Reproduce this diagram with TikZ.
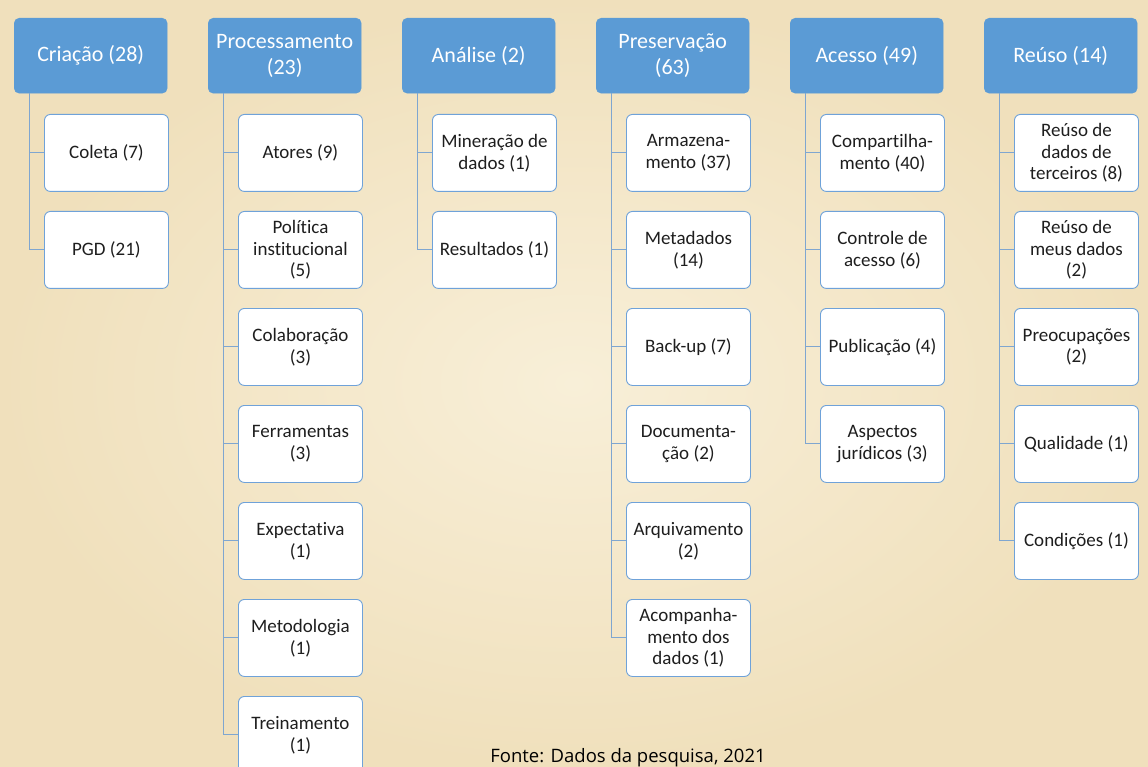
\documentclass[tikz,border=0pt]{standalone}
\usepackage{fontspec}
\setmainfont{Carlito}[RawFeature={-liga;-clig;-calt}]
\newfontfamily\srcfont{Open Sans}
\definecolor{bgin}{HTML}{F8EFD8}
\definecolor{bgout}{HTML}{F0E0BC}
\definecolor{headc}{HTML}{5B9BD5}
\definecolor{edgec}{HTML}{6FA2D9}
\definecolor{linec}{HTML}{7FA6D0}
\definecolor{txtc}{HTML}{1E1E1E}
\tikzset{
  head/.style={anchor=north west, fill=headc, draw=headc, rounded corners=5pt,
    minimum width=153pt, minimum height=75pt, inner sep=2pt, align=center,
    text=white, font=\fontsize{22}{26}\selectfont},
  child/.style={anchor=north west, fill=white, draw=edgec, line width=0.9pt, rounded corners=6pt,
    minimum width=124pt, minimum height=77pt, inner sep=2pt, align=center,
    text=txtc, font=\fontsize{19}{21.7}\selectfont},
  conn/.style={draw=linec, line width=1pt},
}
\begin{document}
\begin{tikzpicture}[x=1pt,y=-1pt]
\shade[inner color=bgin, outer color=bgout] (0,0) rectangle (1148,767);
\useasboundingbox (0,0) rectangle (1148,767);
% headers
\node[head] (h1) at (14,18) {Criação (28)};
\node[head] (h2) at (208,18) {Processamento\\(23)};
\node[head] (h3) at (402,18) {Análise (2)};
\node[head] (h4) at (596,18) {Preservação\\(63)};
\node[head] (h5) at (790,18) {Acesso (49)};
\node[head] (h6) at (984,18) {Reúso (14)};
% Criação
\node[child] (c11) at (44,114) {Coleta (7)};
\node[child] (c12) at (44,211) {PGD (21)};
% Processamento
\node[child] (c21) at (238,114) {Atores (9)};
\node[child] (c22) at (238,211) {Política\\institucional\\(5)};
\node[child] (c23) at (238,308) {Colaboração\\(3)};
\node[child] (c24) at (238,405) {Ferramentas\\(3)};
\node[child] (c25) at (238,502) {Expectativa\\(1)};
\node[child] (c26) at (238,599) {Metodologia\\(1)};
\node[child] (c27) at (238,696) {Treinamento\\(1)};
% Análise
\node[child] (c31) at (432,114) {Mineração de\\dados (1)};
\node[child] (c32) at (432,211) {Resultados (1)};
% Preservação
\node[child] (c41) at (626,114) {Armazena-\\mento (37)};
\node[child] (c42) at (626,211) {Metadados\\(14)};
\node[child] (c43) at (626,308) {Back-up (7)};
\node[child] (c44) at (626,405) {Documenta-\\ção (2)};
\node[child] (c45) at (626,502) {Arquivamento\\(2)};
\node[child] (c46) at (626,599) {Acompanha-\\mento dos\\dados (1)};
% Acesso
\node[child] (c51) at (820,114) {Compartilha-\\mento (40)};
\node[child] (c52) at (820,211) {Controle de\\acesso (6)};
\node[child] (c53) at (820,308) {Publicação (4)};
\node[child] (c54) at (820,405) {Aspectos\\jurídicos (3)};
% Reúso
\node[child] (c61) at (1014,114) {Reúso de\\dados de\\terceiros (8)};
\node[child] (c62) at (1014,211) {Reúso de\\meus dados\\(2)};
\node[child] (c63) at (1014,308) {Preocupações\\(2)};
\node[child] (c64) at (1014,405) {Qualidade (1)};
\node[child] (c65) at (1014,502) {Condições (1)};
% connectors
\foreach \h/\cs in {h1/{c11,c12}, h2/{c21,c22,c23,c24,c25,c26,c27}, h3/{c31,c32},
  h4/{c41,c42,c43,c44,c45,c46}, h5/{c51,c52,c53,c54}, h6/{c61,c62,c63,c64,c65}}{
  \foreach \c in \cs {
    \draw[conn] ([xshift=15pt]\h.south west) |- (\c.west);
  }
}
% source line
\node[anchor=base, font=\srcfont\fontsize{18.5}{22}\selectfont, text=black, inner sep=0pt] (src) at (628,762) {Fonte: Dados da pesquisa, 2021};
\end{tikzpicture}
\end{document}
